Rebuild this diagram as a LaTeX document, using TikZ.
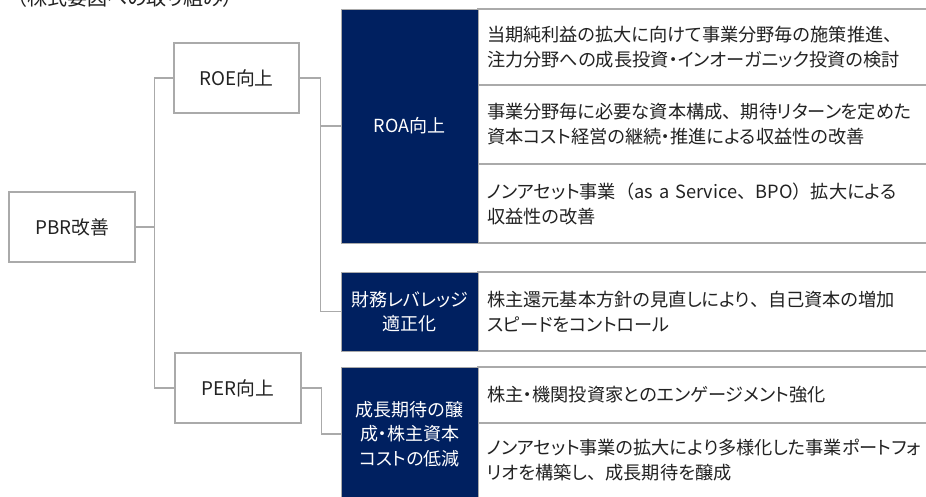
\documentclass[tikz,border=0pt]{standalone}
\usepackage{fontspec}
\setmainfont{Noto Sans CJK JP}[RawFeature=+palt]
\newfontfamily\nopalt{Noto Sans CJK JP}
\newcommand\ftou{{\nopalt 、}}
\definecolor{navy}{RGB}{0,32,96}
\definecolor{lineg}{RGB}{170,170,170}
\definecolor{txt}{RGB}{34,34,34}
\begin{document}
\begin{tikzpicture}[x=1pt,y=-1pt,
  wbox/.style={draw=lineg,line width=1.2pt,fill=white,text=txt,inner sep=0pt,
    font=\fontsize{18.8}{22}\selectfont},
  dbox/.style={draw=lineg,line width=0.6pt,fill=navy,text=white,align=center,inner sep=0pt,
    minimum width=137,font=\fontsize{18}{24.5}\selectfont},
  rowbox/.style={draw=lineg,line width=1.1pt,fill=white,text=txt,align=left,
    text width=460,inner xsep=9,inner ysep=0pt,font=\fontsize{18.2}{25}\selectfont},
  conn/.style={draw=lineg,line width=1.2pt},
]
\useasboundingbox (0,0) rectangle (926,496);

% cut-off title at the top
\node[anchor=base east,inner sep=0pt,text=txt,font=\fontsize{20}{20}\selectfont] (title) at (233,5) {（株式要因への取り組み）};

% left tree
\node[wbox,minimum width=126,minimum height=70] (PBR) at (72,227) {PBR改善};
\node[wbox,minimum width=125,minimum height=70] (ROE) at (236.5,78) {ROE向上};
\node[wbox,minimum width=126,minimum height=70] (PER) at (238,388) {PER向上};

% rows (white)
\node[rowbox,minimum height=76] (r1) at (717,47) {当期純利益の拡大に向けて事業分野毎の施策推進\ftou\\注力分野への成長投資・インオーガニック投資の検討};
\node[rowbox,minimum height=79] (r2) at (717,124.5) {事業分野毎に必要な資本構成\ftou 期待リターンを定めた\\資本コスト経営の継続・推進による収益性の改善};
\node[rowbox,minimum height=79] (r3) at (717,203.5) {ノンアセット事業{\nopalt （}as a Service\ftou BPO{\nopalt ）}拡大による\\収益性の改善};
\node[rowbox,minimum height=79] (r4) at (717,311.5) {株主還元基本方針の見直しにより\ftou 自己資本の増加\\スピードをコントロール};
\node[rowbox,minimum height=56] (r5) at (717,395) {株主・機関投資家とのエンゲージメント強化};
\node[rowbox,minimum height=75] (r6) at (717,460.5) {ノンアセット事業の拡大により多様化した事業ポートフォ\\リオを構築し\ftou 成長期待を醸成};

% dark boxes
\node[dbox,minimum height=234] (ROA) at (409.5,126) {ROA向上};
\node[dbox,minimum height=79] (FIN) at (409.5,311.5) {財務レバレッジ\\適正化};
\node[dbox,minimum height=134] (GRW) at (409.5,434) {成長期待の醸\\成・株主資本\\コストの低減};

% connectors
\draw[conn] (PBR.east) -- ++(19,0) |- (ROE.west);
\draw[conn] (PBR.east) -- ++(19,0) |- (PER.west);
\draw[conn] (ROE.east) -- ++(21,0) |- (ROA.west);
\draw[conn] (ROE.east) -- ++(21,0) |- (FIN.west);
\draw[conn] (PER.east) -- ++(20,0) |- (GRW.west);
\end{tikzpicture}
\end{document}
